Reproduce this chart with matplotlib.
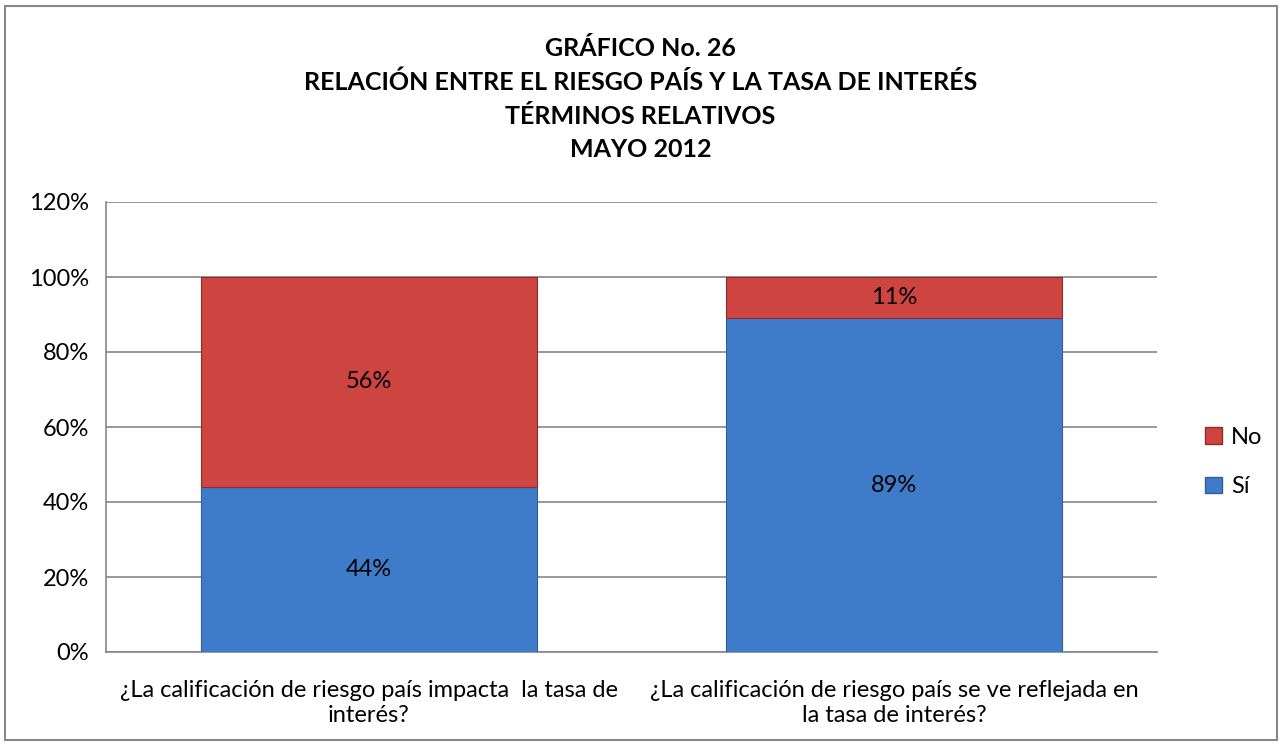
import numpy as np
import matplotlib.pyplot as plt
from matplotlib.patches import Rectangle, Patch

# %% DATA
categorias = ['¿La calificación de riesgo país impacta  la tasa de\ninterés?',
              '¿La calificación de riesgo país se ve reflejada en\nla tasa de interés?']
si = [44, 89]
no = [56, 11]
yticks = [0, 20, 40, 60, 80, 100, 120]
titulo = ('GRÁFICO No. 26\nRELACIÓN ENTRE EL RIESGO PAÍS Y LA TASA DE INTERÉS\n'
          'TÉRMINOS RELATIVOS\nMAYO 2012')

# %% PLOT
plt.rcParams['font.family'] = ['Lato', 'DejaVu Sans']

azul = '#3E7CCA'
rojo = '#CE4441'

fig = plt.figure(figsize=(12.81, 7.46), dpi=100)
fig.patches.append(Rectangle((0.004, 0.008), 0.993, 0.984, transform=fig.transFigure,
                             fill=False, edgecolor='#888888', linewidth=1.5))

ax = fig.add_axes([106/1281, 1-652/746, (1157-106)/1281, (652-202)/746])
x = np.arange(len(categorias))
w = 0.64
ax.bar(x, si, w, color=azul, edgecolor='#2F5F9A', linewidth=0.8, zorder=3, label='Sí')
ax.bar(x, no, w, bottom=si, color=rojo, edgecolor='#8E2C2A', linewidth=0.8, zorder=3, label='No')

for i in range(len(x)):
    ax.text(x[i], si[i]/2, str(si[i]) + '%', ha='center', va='center', fontsize=17, zorder=4)
    ax.text(x[i], si[i] + no[i]/2, str(no[i]) + '%', ha='center', va='center', fontsize=17, zorder=4)

ax.set_xlim(-0.5, 1.5)
ax.set_ylim(0, 120)
ax.set_yticks(yticks)
ax.set_yticklabels([str(t) + '%' for t in yticks], fontsize=17)
ax.set_xticks(x)
ax.set_xticklabels(categorias, fontsize=17, linespacing=1.25)
ax.tick_params(axis='x', length=0, pad=20)
ax.tick_params(axis='y', length=0, pad=12)
ax.grid(axis='y', color='#868686', linewidth=1.2, zorder=0)
for s in ['top', 'right']:
    ax.spines[s].set_visible(False)
ax.spines['left'].set_color('#868686')
ax.spines['bottom'].set_color('#868686')
ax.spines['left'].set_linewidth(1.2)
ax.spines['bottom'].set_linewidth(1.2)

fig.text(0.5, 1-99/746, titulo, ha='center', va='center', fontsize=18,
         fontweight='bold', linespacing=1.55)

handles = [Patch(facecolor=rojo, edgecolor='#8E2C2A', label='No'),
           Patch(facecolor=azul, edgecolor='#2F5F9A', label='Sí')]
fig.legend(handles=handles, loc='center left', bbox_to_anchor=(1184/1281, 1-462/746),
           frameon=False, fontsize=17, handlelength=0.7, handleheight=0.7,
           handletextpad=0.4, labelspacing=1.2)

fig.savefig('out.png', dpi=100)
